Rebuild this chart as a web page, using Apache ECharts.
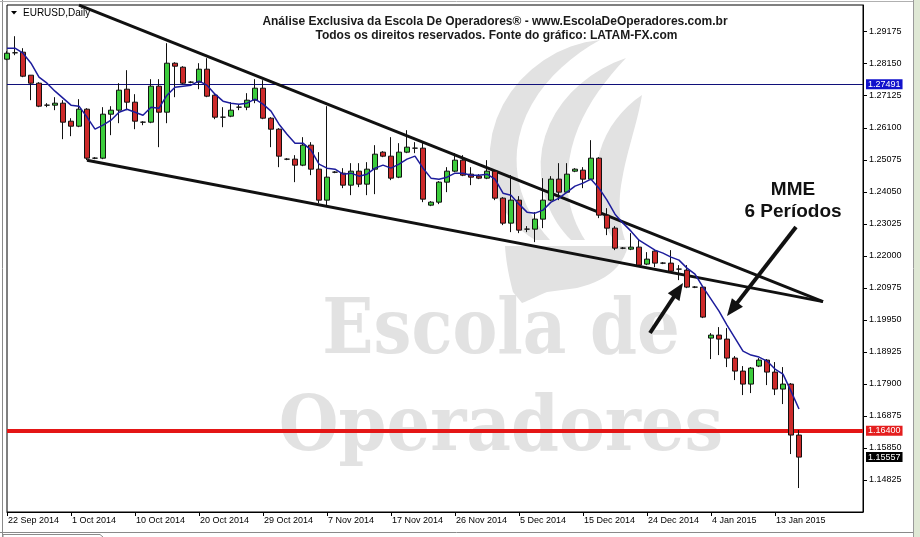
<!DOCTYPE html>
<html><head><meta charset="utf-8">
<script src="https://cdn.jsdelivr.net/npm/echarts@6/dist/echarts.min.js"></script>
<style>html,body{margin:0;padding:0;background:#fff}#c{width:920px;height:537px}</style>
</head><body><div id="c"></div>
<script>
// ---- DATA ----
const dates = [
 '22 Sep 2014','23 Sep 2014','24 Sep 2014','25 Sep 2014','26 Sep 2014','28 Sep 2014','29 Sep 2014','30 Sep 2014',
 '1 Oct 2014','2 Oct 2014','3 Oct 2014','5 Oct 2014','6 Oct 2014','7 Oct 2014','8 Oct 2014','9 Oct 2014',
 '10 Oct 2014','12 Oct 2014','13 Oct 2014','14 Oct 2014','15 Oct 2014','16 Oct 2014','17 Oct 2014','19 Oct 2014',
 '20 Oct 2014','21 Oct 2014','22 Oct 2014','23 Oct 2014','24 Oct 2014','26 Oct 2014','27 Oct 2014','28 Oct 2014',
 '29 Oct 2014','30 Oct 2014','31 Oct 2014','2 Nov 2014','3 Nov 2014','4 Nov 2014','5 Nov 2014','6 Nov 2014',
 '7 Nov 2014','9 Nov 2014','10 Nov 2014','11 Nov 2014','12 Nov 2014','13 Nov 2014','14 Nov 2014','16 Nov 2014',
 '17 Nov 2014','18 Nov 2014','19 Nov 2014','20 Nov 2014','21 Nov 2014','23 Nov 2014','24 Nov 2014','25 Nov 2014',
 '26 Nov 2014','27 Nov 2014','28 Nov 2014','30 Nov 2014','1 Dec 2014','2 Dec 2014','3 Dec 2014','4 Dec 2014',
 '5 Dec 2014','7 Dec 2014','8 Dec 2014','9 Dec 2014','10 Dec 2014','11 Dec 2014','12 Dec 2014','14 Dec 2014',
 '15 Dec 2014','16 Dec 2014','17 Dec 2014','18 Dec 2014','19 Dec 2014','21 Dec 2014','22 Dec 2014','23 Dec 2014',
 '24 Dec 2014','26 Dec 2014','28 Dec 2014','29 Dec 2014','30 Dec 2014','31 Dec 2014','1 Jan 2015','2 Jan 2015',
 '4 Jan 2015','5 Jan 2015','6 Jan 2015','7 Jan 2015','8 Jan 2015','9 Jan 2015','11 Jan 2015','12 Jan 2015',
 '13 Jan 2015','14 Jan 2015','15 Jan 2015','16 Jan 2015'
];
// [open, close, low, high]
const candles = [
 [1.28295,1.28487,1.28263,1.28551],[1.28500,1.28500,1.28423,1.29031],[1.28519,1.27751,1.27719,1.28647],[1.27783,1.27527,1.26983,1.27783],
 [1.27527,1.26791,1.26759,1.27559],[1.26823,1.26823,1.26759,1.26887],[1.26823,1.26887,1.26663,1.27079],[1.26887,1.26279,1.25735,1.26983],
 [1.26311,1.26151,1.25831,1.26407],[1.26151,1.26695,1.26119,1.27015],[1.26695,1.25127,1.25063,1.26727],[1.25127,1.25127,1.25095,1.25159],
 [1.25127,1.26535,1.25095,1.26759],[1.26535,1.26663,1.25863,1.26791],[1.26663,1.27303,1.26247,1.27527],[1.27335,1.26919,1.26663,1.27943],
 [1.26919,1.26311,1.26055,1.27175],[1.26279,1.26279,1.26183,1.26311],[1.26279,1.27431,1.26247,1.27655],[1.27431,1.26599,1.25479,1.27655],
 [1.26599,1.28167,1.26247,1.28807],[1.28167,1.28071,1.27079,1.28199],[1.28039,1.27527,1.27495,1.28071],[1.27559,1.27559,1.27527,1.27591],
 [1.27559,1.27975,1.27335,1.28167],[1.27975,1.27111,1.27079,1.28327],[1.27143,1.26439,1.26375,1.27175],[1.26439,1.26439,1.26119,1.26759],
 [1.26471,1.26663,1.26439,1.26919],[1.26759,1.26759,1.26663,1.26855],[1.26759,1.26983,1.26663,1.27207],[1.26983,1.27367,1.26887,1.27655],
 [1.27367,1.26407,1.26375,1.27623],[1.26407,1.26055,1.25479,1.26439],[1.26055,1.25191,1.24839,1.26087],[1.25095,1.25095,1.25063,1.25127],
 [1.25095,1.24903,1.24359,1.25223],[1.24903,1.25543,1.24871,1.25799],[1.25543,1.24775,1.24583,1.25639],[1.24775,1.23783,1.23687,1.25319],
 [1.23783,1.24519,1.23591,1.26791],[1.24679,1.24679,1.24647,1.24711],[1.24647,1.24263,1.24167,1.24807],[1.24263,1.24711,1.23943,1.24967],
 [1.24711,1.24295,1.24199,1.24967],[1.24295,1.24775,1.23943,1.24999],[1.24775,1.25255,1.23975,1.25543],[1.25319,1.25191,1.25159,1.25351],
 [1.25191,1.24487,1.24423,1.25799],[1.24519,1.25319,1.24487,1.25607],[1.25319,1.25479,1.25287,1.26023],[1.25447,1.25447,1.25287,1.25639],
 [1.25447,1.23815,1.23719,1.25671],[1.23623,1.23719,1.23591,1.23751],[1.23719,1.24359,1.23655,1.24391],[1.24359,1.24711,1.24039,1.24839],
 [1.24711,1.25063,1.24679,1.25287],[1.25063,1.24583,1.24551,1.25223],[1.24615,1.24519,1.24263,1.24839],[1.24551,1.24487,1.24455,1.24615],
 [1.24487,1.24711,1.24455,1.25063],[1.24711,1.23847,1.23783,1.24743],[1.23847,1.23047,1.22983,1.23879],[1.23047,1.23783,1.22759,1.24583],
 [1.23783,1.22823,1.22727,1.23911],[1.22855,1.22855,1.22759,1.22951],[1.22855,1.23175,1.22439,1.23399],[1.23175,1.23783,1.22887,1.24487],
 [1.23783,1.24455,1.23751,1.24551],[1.24455,1.24039,1.23783,1.24967],[1.24039,1.24615,1.24007,1.24967],[1.24711,1.24775,1.24679,1.24807],
 [1.24743,1.24455,1.24167,1.24839],[1.24455,1.25127,1.24423,1.25703],[1.25127,1.23303,1.23207,1.25159],[1.23303,1.22887,1.22663,1.23527],
 [1.22887,1.22247,1.22183,1.22951],[1.22247,1.22247,1.22215,1.22279],[1.22215,1.22279,1.22183,1.22727],[1.22279,1.21703,1.21671,1.22503],
 [1.21735,1.21895,1.21703,1.22119],[1.22151,1.21767,1.21639,1.22183],[1.21767,1.21767,1.21735,1.21799],[1.21767,1.21511,1.21479,1.22183],
 [1.21575,1.21575,1.21223,1.21703],[1.21543,1.20999,1.20967,1.21703],[1.20999,1.20999,1.20967,1.21031],[1.20999,1.20039,1.20007,1.21031],
 [1.19367,1.19463,1.18695,1.19527],[1.19463,1.19335,1.18823,1.19719],[1.19335,1.18727,1.18439,1.19687],[1.18727,1.18311,1.18023,1.18791],
 [1.18311,1.17895,1.17543,1.18471],[1.17895,1.18407,1.17607,1.18439],[1.18471,1.18663,1.18439,1.18727],[1.18663,1.18279,1.17863,1.18695],
 [1.18279,1.17735,1.17543,1.18599],[1.17735,1.17895,1.17255,1.18439],[1.17895,1.16263,1.15655,1.17927],[1.16263,1.15557,1.14567,1.16423]
];
// MME (EMA) 6 periods
const mme6 = [
 1.28647,1.28647,1.28487,1.28167,1.27719,1.27527,1.27271,1.27047,1.26823,1.26791,
 1.26439,1.26055,1.26183,1.26343,1.26599,1.26695,1.26599,1.26503,1.26759,1.26727,
 1.27143,1.27399,1.27431,1.27463,1.27591,1.27463,1.27175,1.26951,1.26887,1.26855,
 1.26887,1.27015,1.26855,1.26631,1.26215,1.25895,1.25607,1.25607,1.25383,1.24935,
 1.24807,1.24775,1.24615,1.24647,1.24551,1.24615,1.24807,1.24903,1.24807,1.24935,
 1.25095,1.25191,1.24807,1.24487,1.24455,1.24519,1.24647,1.24647,1.24583,1.24583,
 1.24615,1.24455,1.24007,1.23943,1.23655,1.23399,1.23367,1.23463,1.23719,1.23847,
 1.24039,1.24231,1.24327,1.24455,1.24167,1.23783,1.23335,1.23047,1.22791,1.22503,
 1.22343,1.22183,1.22087,1.21959,1.21863,1.21607,1.21415,1.20999,1.20615,1.20231,
 1.19783,1.19367,1.18951,1.18823,1.18759,1.18631,1.18375,1.18215,1.17671,1.17095
];
const yTicks = [1.14825,1.15850,1.16875,1.17900,1.18925,1.19950,1.20975,1.22000,1.23025,1.24050,1.25075,1.26100,1.27125,1.28150,1.29175];
const prevLevel = 1.27491;   // blue horizontal line
const keyLevel = 1.16400;    // red support line
const lastBid = 1.15557;     // last price
// trend lines: [categoryIndex, price]
const upperTrend = [[9, 1.30023],[102, 1.20535]];
const lowerTrend = [[10, 1.25063],[102, 1.20535]];

// ---- LAYOUT ----
const FONT = '"Liberation Sans", Arial, sans-serif';
const cats = dates.concat(['','','','','','','','']);
const chart = echarts.init(document.getElementById('c'), null, {renderer:'canvas'});

// tiny path sampler (M, L, C, Z absolute) -> polygon points
function pathPts(d){
  const t = d.match(/[MLCZ]|-?[\d.]+/g); const pts = []; let i = 0, cx = 0, cy = 0, cmd = '';
  while (i < t.length){
    if (/[MLCZ]/.test(t[i])) { cmd = t[i++]; if (cmd === 'Z') continue; }
    if (cmd === 'M' || cmd === 'L'){ cx = +t[i]; cy = +t[i+1]; i += 2; pts.push([cx,cy]); }
    else if (cmd === 'C'){
      const x1=+t[i],y1=+t[i+1],x2=+t[i+2],y2=+t[i+3],x=+t[i+4],y=+t[i+5]; i += 6;
      for (let k=1;k<=12;k++){ const s=k/12, u=1-s;
        pts.push([u*u*u*cx+3*u*u*s*x1+3*u*s*s*x2+s*s*s*x, u*u*u*cy+3*u*u*s*y1+3*u*s*s*y2+s*s*s*y]); }
      cx = x; cy = y;
    } else i++;
  }
  return pts;
}
function arrow(tail, tip, w, headLen, headHalf){
  const dx = tip[0]-tail[0], dy = tip[1]-tail[1], L = Math.hypot(dx,dy);
  const ux = dx/L, uy = dy/L, px = -uy, py = ux;
  const bx = tip[0]-ux*headLen, by = tip[1]-uy*headLen;
  return [
    {type:'polyline', z:100, shape:{points:[tail,[bx+ux*2,by+uy*2]]}, style:{stroke:'#111', lineWidth:w, fill:null}},
    {type:'polygon', z:100, shape:{points:[tip,[bx+px*headHalf,by+py*headHalf],[bx-px*headHalf,by-py*headHalf]]}, style:{fill:'#111'}}
  ];
}
const WM = '#e2e2e2';
const logo = [
  'M600 40 C540 45 485 100 490 165 C493 200 510 225 535 240 L550 240 C527 215 514 185 517 150 C522 100 560 62 600 40 Z',
  'M626 58 C576 75 536 120 541 175 C544 205 556 225 571 240 L585 240 C572 220 565 195 568 170 C572 125 596 90 626 58 Z',
  'M642 95 C612 115 592 150 597 190 C599 210 605 228 614 240 L625 240 C619 222 618 200 622 180 C627 150 637 125 642 95 Z',
  'M505 246 L628 246 C622 270 602 282 577 288 L547 292 C537 296 530 300 522 303 L513 292 C509 277 506 262 505 246 Z'
].map(d => ({type:'polygon', z:-100, shape:{points:pathPts(d)}, style:{fill:WM}}));

const tickEvery8 = (idx, val) => idx % 8 === 0 && val !== '';

const graphics = [
  // window chrome
  {type:'rect', z:-200, shape:{x:914,y:0,width:6,height:537}, style:{fill:'#dfe8d5'}},
  {type:'line', z:-200, shape:{x1:913.5,y1:0,x2:913.5,y2:537}, style:{stroke:'#9a9a9a'}},
  {type:'line', z:-200, shape:{x1:2.5,y1:0,x2:2.5,y2:537}, style:{stroke:'#8a8a8a'}},
  {type:'line', z:-200, shape:{x1:0,y1:1.5,x2:913,y2:1.5}, style:{stroke:'#b0b0b0'}},
  {type:'line', z:-200, shape:{x1:0,y1:532.5,x2:913,y2:532.5}, style:{stroke:'#8a8a8a'}},
  {type:'polyline', z:-200, shape:{points:[[3,537],[3,534.5],[100,534.5],[103,537]]}, style:{stroke:'#8a8a8a', fill:null}}
].concat(logo, [
  // watermark words
  {type:'text', z:-100, x:501, y:333, scaleX:1.02, scaleY:1.15, style:{text:'Escola de', align:'center', verticalAlign:'middle', font:'bold 66px "DejaVu Serif", serif', fill:WM}},
  {type:'text', z:-100, x:501, y:430, scaleX:1.04, scaleY:1.15, style:{text:'Operadores', align:'center', verticalAlign:'middle', font:'bold 66px "DejaVu Serif", serif', fill:WM}},
  // header texts
  {type:'text', z:100, x:495, y:22, style:{text:'Análise Exclusiva da Escola De Operadores® - www.EscolaDeOperadores.com.br', align:'center', verticalAlign:'middle', font:'bold 12px '+FONT, fill:'#1a1a1a'}},
  {type:'text', z:100, x:496.5, y:36, style:{text:'Todos os direitos reservados. Fonte do gráfico: LATAM-FX.com', align:'center', verticalAlign:'middle', font:'bold 12px '+FONT, fill:'#1a1a1a'}},
  {type:'polygon', z:100, shape:{points:[[11,11],[17,11],[14,14.5]]}, style:{fill:'#000'}},
  {type:'text', z:100, x:23, y:13, style:{text:'EURUSD,Daily', align:'left', verticalAlign:'middle', font:'10px '+FONT, fill:'#000'}},
  // annotation
  {type:'text', z:100, x:793, y:190, style:{text:'MME', align:'center', verticalAlign:'middle', font:'bold 19px '+FONT, fill:'#111'}},
  {type:'text', z:100, x:793, y:212, style:{text:'6 Períodos', align:'center', verticalAlign:'middle', font:'bold 19px '+FONT, fill:'#111'}}
], arrow([650,333],[683,283],4,17,7), arrow([796,227],[727,316],4,17,7));

const priceLabel = (bg) => ({show:true, position:'end', distance:3, color:'#fff', backgroundColor:bg,
  padding:[1,2,0,2], fontSize:9, fontFamily:FONT, formatter: p => Number(p.value).toFixed(5)});
const trendStyle = {lineStyle:{color:'#111', width:3, type:'solid'}, label:{show:false}};

const option = {
  animation:false,
  backgroundColor:'#fff',
  grid:{left:7, top:5, width:856, height:507, show:true, borderColor:'#000', borderWidth:1, backgroundColor:'transparent'},
  xAxis:{type:'category', data:cats, boundaryGap:false,
    axisLine:{lineStyle:{color:'#000', width:1}},
    axisTick:{interval:tickEvery8, length:4, lineStyle:{color:'#000'}},
    axisLabel:{interval:tickEvery8, align:'left', padding:[0,0,0,1], fontSize:9, fontFamily:FONT, color:'#000', margin:4},
    splitLine:{show:false}},
  yAxis:{type:'value', position:'right', min:1.1380, max:1.3003, scale:true,
    axisLine:{show:true, lineStyle:{color:'#000', width:1}},
    axisTick:{show:true, length:4, customValues:yTicks, lineStyle:{color:'#000'}},
    axisLabel:{customValues:yTicks, formatter:v=>v.toFixed(5), fontSize:9, fontFamily:FONT, color:'#000', margin:6},
    splitLine:{show:false}},
  graphic:{elements:graphics},
  series:[
    {type:'candlestick', data:candles, barWidth:5, z:5,
     itemStyle:{color:'#3ccc3c', color0:'#cc2a2a', borderColor:'#111', borderColor0:'#111', borderWidth:1}},
    {type:'line', data:mme6, symbol:'none', z:6, clip:false,
     lineStyle:{color:'#1c1c9c', width:1.5},
     markLine:{silent:true, symbol:'none', animation:false, precision:5,
       data:[
         {yAxis:prevLevel, lineStyle:{color:'#10107a', width:1, type:'solid'}, label:priceLabel('#1212cc')},
         {yAxis:keyLevel, lineStyle:{color:'#e41616', width:4, type:'solid'}, label:priceLabel('#e41e1e')},
         {yAxis:lastBid, lineStyle:{color:'rgba(0,0,0,0)', width:1, type:'solid'}, label:priceLabel('#000')},
         [Object.assign({coord:upperTrend[0]}, trendStyle), {coord:upperTrend[1]}],
         [Object.assign({coord:lowerTrend[0]}, trendStyle), {coord:lowerTrend[1]}]
       ]
     }}
  ]
};
chart.setOption(option);
</script></body></html>
